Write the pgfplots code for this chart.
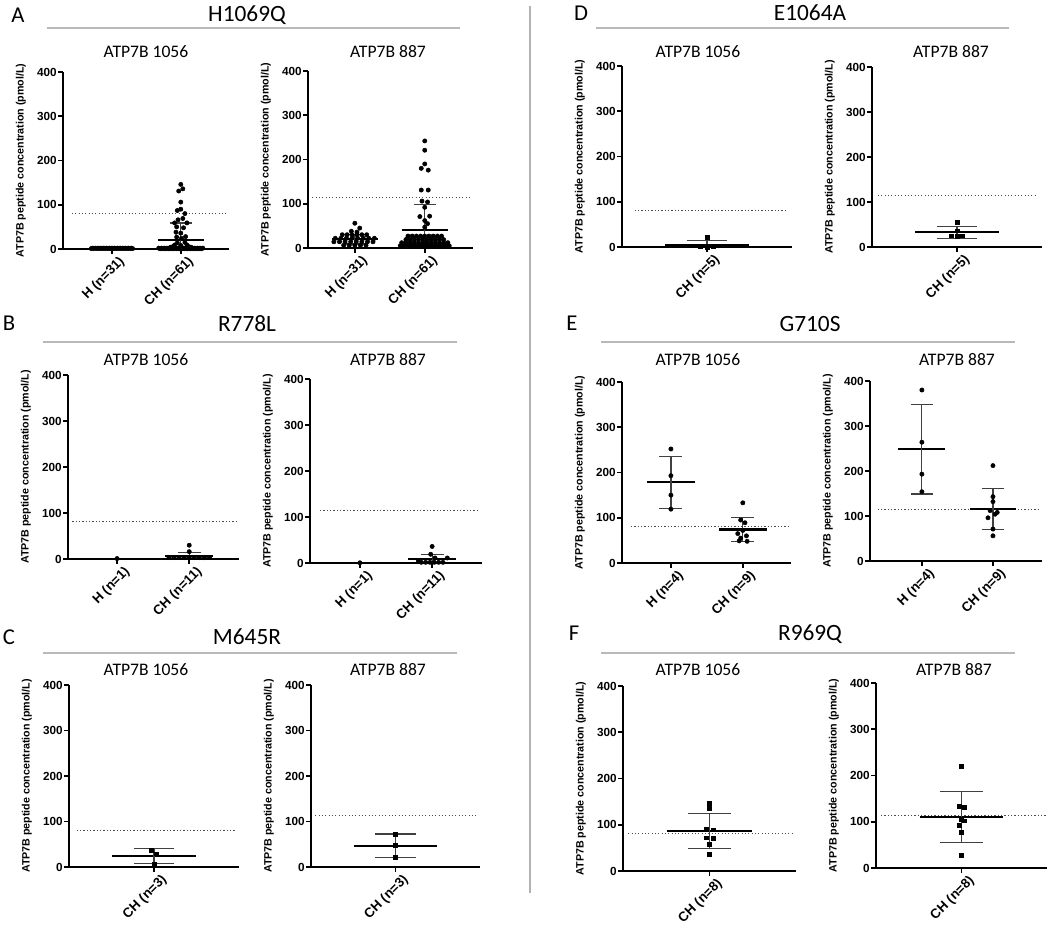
\documentclass[border=0pt]{standalone}
\usepackage{fontspec}
\setmainfont{Liberation Sans}
\newfontfamily\carl{Carlito}
\usepackage{pgfplots}
\pgfplotsset{compat=1.18}
\pgfplotsset{
  gp/.style={
    scale only axis, anchor=south west, clip=false,
    axis lines=left, axis line style={-, line width=1.5pt},
    ymin=0, ymax=400, ytick={0,100,200,300,400},
    tick align=outside, major tick length=3.5pt,
    every tick/.style={black, line width=1.2pt},
    /pgf/number format/assume math mode=true,
    yticklabel style={font=\bfseries\fontsize{8.8}{9}\selectfont, inner sep=1pt},
    xticklabel style={font=\bfseries\fontsize{10}{11}\selectfont, rotate=45, anchor=north east, inner sep=0pt, yshift=-4pt, xshift=2.5pt},
    ylabel={ATP7B peptide concentration (pmol/L)},
    ylabel style={font=\bfseries\fontsize{8}{9}\selectfont, yshift=4pt},
  },
  pts/.style={only marks, mark=*, mark size=1.6pt, black},
  sq/.style={only marks, mark=square*, mark size=1.4pt, black},
  meanl/.style={black, line width=1.6pt, no marks},
  sdl/.style={black!75, line width=0.9pt, no marks},
  thr/.style={black!70, line width=0.9pt, no marks, dash pattern=on 0.9pt off 1.6pt},
}
\begin{document}
\begin{tikzpicture}[x=0.75pt,y=-0.75pt]
\path[use as bounding box, fill=white] (0,0) rectangle (1050,926);
% divider and title rules
\draw[gray!60, line width=1pt] (530,6) -- (530,893);
\draw[gray!55, line width=1.5pt] (47,28) -- (460,28);
\draw[gray!55, line width=1.5pt] (43,342) -- (457,342);
\draw[gray!55, line width=1.5pt] (43,653) -- (457,653);
\draw[gray!55, line width=1.5pt] (596,28) -- (1009,28);
\draw[gray!55, line width=1.5pt] (601,342) -- (1015,342);
\draw[gray!55, line width=1.5pt] (601,653) -- (1015,653);
% panel letters and titles
\tikzset{letter/.style={font=\carl\fontsize{17}{18}\selectfont}, ptitle/.style={font=\carl\fontsize{17.5}{18}\selectfont}, stitle/.style={font=\carl\fontsize{13.2}{14}\selectfont}}
\node[letter] at (18,15) {A};
\node[ptitle] at (247,15) {H1069Q};
\node[letter] at (9,323) {B};
\node[ptitle] at (247,324) {R778L};
\node[letter] at (9,637) {C};
\node[ptitle] at (247,637) {M645R};
\node[letter] at (581,13) {D};
\node[ptitle] at (810,13) {E1064A};
\node[letter] at (572,323) {E};
\node[ptitle] at (810,324) {G710S};
\node[letter] at (574,633) {F};
\node[ptitle] at (810,634) {R969Q};
\node[stitle] at (146,52) {ATP7B 1056};
\node[stitle] at (388,52) {ATP7B 887};
\node[stitle] at (146,360) {ATP7B 1056};
\node[stitle] at (388,360) {ATP7B 887};
\node[stitle] at (146,670) {ATP7B 1056};
\node[stitle] at (388,670) {ATP7B 887};
\node[stitle] at (698,52) {ATP7B 1056};
\node[stitle] at (951,52) {ATP7B 887};
\node[stitle] at (698,360) {ATP7B 1056};
\node[stitle] at (957,360) {ATP7B 887};
\node[stitle] at (698,670) {ATP7B 1056};
\node[stitle] at (954,670) {ATP7B 887};

% ---------------- A1 ----------------
\begin{axis}[gp, at={(47.25pt,-186.75pt)}, width=124.5pt, height=132.75pt,
  xmin=0.29, xmax=2.70, xtick={1,2}, xticklabels={H (n=31), CH (n=61)}]
\addplot[thr] coordinates {(0.42,81) (2.67,81)};
\addplot[pts] coordinates {(0.70,1) (0.72,2) (0.74,1) (0.76,2) (0.78,1) (0.80,2) (0.82,1) (0.84,2) (0.86,1) (0.88,2) (0.90,1) (0.92,2) (0.94,1) (0.96,2) (0.98,1) (1.00,2) (1.02,1) (1.04,2) (1.06,1) (1.08,2) (1.10,1) (1.12,2) (1.14,1) (1.16,2) (1.18,1) (1.20,2) (1.22,1) (1.24,2) (1.26,1) (1.28,2) (1.30,1)};
\addplot[meanl] coordinates {(0.67,1) (1.33,1)};
\addplot[pts] coordinates {(2.00,146) (2.03,136) (1.97,131) (2.00,106) (2.00,90) (1.95,87) (2.06,80) (2.03,69) (1.96,66) (1.91,59) (2.09,59) (1.94,50) (2.04,48) (1.93,38) (2.00,36) (2.07,28) (1.94,27) (2.01,24) (1.95,14) (2.06,15) (1.91,9) (2.00,8) (2.09,9) (1.88,5) (2.12,5)
 (1.68,2) (1.72,2) (1.76,2) (1.80,2) (1.84,2) (1.88,2) (1.92,2) (1.96,2) (2.00,2) (2.04,2) (2.08,2) (2.12,2) (2.16,2) (2.20,2) (2.24,2) (2.28,2) (2.32,2)
 (1.70,0.5) (1.74,0.5) (1.78,0.5) (1.82,0.5) (1.86,0.5) (1.90,0.5) (1.94,0.5) (1.98,0.5) (2.02,0.5) (2.06,0.5) (2.10,0.5) (2.14,0.5) (2.18,0.5) (2.22,0.5) (2.26,0.5) (2.30,0.5)
 (1.85,4) (2.00,4) (2.15,4)};
\addplot[meanl] coordinates {(1.67,21) (2.33,21)};
\addplot[sdl] coordinates {(1.84,59) (2.16,59)};
\addplot[sdl] coordinates {(2,0) (2,59)};
\end{axis}

% ---------------- A2 ----------------
\begin{axis}[gp, at={(231pt,-186pt)}, width=123.75pt, height=132.75pt,
  xmin=0.33, xmax=2.69, xtick={1,2}, xticklabels={H (n=31), CH (n=61)}]
\addplot[thr] coordinates {(0.39,114) (2.64,114)};
\addplot[pts] coordinates {(1.00,56) (1.07,45) (0.95,38) (1.03,36)
 (0.82,30) (0.89,30) (0.96,30) (1.03,30) (1.10,30) (1.17,30)
 (0.72,22) (0.80,22) (0.88,22) (0.96,22) (1.04,22) (1.12,22) (1.20,22) (1.28,22)
 (0.70,14) (0.78,14) (0.86,14) (0.94,14) (1.02,14) (1.10,14) (1.18,14) (1.26,14)
 (0.84,6) (0.92,6) (1.00,6) (1.08,6) (1.16,6)};
\addplot[meanl] coordinates {(0.67,20) (1.33,20)};
\addplot[sdl] coordinates {(0.84,31) (1.16,31)};
\addplot[sdl] coordinates {(0.84,9) (1.16,9)};
\addplot[sdl] coordinates {(1,9) (1,31)};
\addplot[pts] coordinates {(2.00,242) (2.00,221) (2.00,190) (1.95,180) (2.05,176) (1.95,131) (2.05,131) (1.96,106) (2.04,104) (2.00,92) (1.93,71) (2.07,72) (2.00,62) (2.04,55) (2.00,47)
 (1.76,27) (1.82,27) (1.88,27) (1.94,27) (2.00,27) (2.06,27) (2.12,27) (2.18,27) (2.24,27)
 (1.73,19) (1.79,19) (1.85,19) (1.91,19) (1.97,19) (2.03,19) (2.09,19) (2.15,19) (2.21,19) (2.27,19)
 (1.67,12) (1.73,12) (1.79,12) (1.85,12) (1.91,12) (1.97,12) (2.03,12) (2.09,12) (2.15,12) (2.21,12) (2.27,12) (2.33,12)
 (1.65,5) (1.70,5) (1.75,5) (1.80,5) (1.85,5) (1.90,5) (1.95,5) (2.00,5) (2.05,5) (2.10,5) (2.15,5) (2.20,5) (2.25,5) (2.30,5) (2.35,5)};
\addplot[meanl] coordinates {(1.67,41) (2.33,41)};
\addplot[sdl] coordinates {(1.84,99) (2.16,99)};
\addplot[sdl] coordinates {(2,0) (2,99)};
\end{axis}

% ---------------- B1 ----------------
\begin{axis}[gp, at={(51pt,-419.25pt)}, width=128.25pt, height=138pt,
  xmin=0.32, xmax=2.69, xtick={1,2}, xticklabels={H (n=1), CH (n=11)}]
\addplot[thr] coordinates {(0.38,81) (2.65,81)};
\addplot[pts] coordinates {(1.00,1)};
\addplot[pts] coordinates {(2.00,30) (2.00,16) (1.72,3) (1.79,3) (1.86,3) (1.93,3) (2.00,3) (2.07,3) (2.14,3) (2.21,3) (2.28,3)};
\addplot[meanl] coordinates {(1.67,6.5) (2.33,6.5)};
\addplot[sdl] coordinates {(1.84,15) (2.16,15)};
\addplot[sdl] coordinates {(2,0) (2,15)};
\end{axis}

% ---------------- B2 ----------------
\begin{axis}[gp, at={(232.5pt,-422.25pt)}, width=129pt, height=138pt,
  xmin=0.31, xmax=2.69, xtick={1,2}, xticklabels={H (n=1), CH (n=11)}]
\addplot[thr] coordinates {(0.45,114) (2.66,114)};
\addplot[pts] coordinates {(1.00,0.5)};
\addplot[pts] coordinates {(2.00,36) (1.98,19) (2.04,11) (2.21,11) (1.81,5) (1.85,1.5) (1.91,1.5) (1.97,1.5) (2.03,1.5) (2.09,1.5) (2.15,1.5)};
\addplot[meanl] coordinates {(1.67,8) (2.33,8)};
\addplot[sdl] coordinates {(1.84,19) (2.16,19)};
\addplot[sdl] coordinates {(2,0) (2,19)};
\end{axis}

% ---------------- C1 ----------------
\begin{axis}[gp, at={(51.75pt,-650.25pt)}, width=127.5pt, height=136.5pt,
  xmin=0, xmax=2, xtick={1}, xticklabels={CH (n=3)}]
\addplot[thr] coordinates {(0.09,81) (1.95,81)};
\addplot[sq] coordinates {(0.97,37) (1.03,29) (1.00,6)};
\addplot[meanl] coordinates {(0.51,24) (1.49,24)};
\addplot[sdl] coordinates {(0.76,40) (1.24,40)};
\addplot[sdl] coordinates {(0.76,8) (1.24,8)};
\addplot[sdl] coordinates {(1,8) (1,40)};
\end{axis}

% ---------------- C2 ----------------
\begin{axis}[gp, at={(233.25pt,-650.25pt)}, width=126.75pt, height=136.5pt,
  xmin=0, xmax=2, xtick={1}, xticklabels={CH (n=3)}]
\addplot[thr] coordinates {(0.05,114) (1.95,114)};
\addplot[sq] coordinates {(1.00,72) (1.00,47) (1.00,21)};
\addplot[meanl] coordinates {(0.51,47) (1.49,47)};
\addplot[sdl] coordinates {(0.76,72.5) (1.24,72.5)};
\addplot[sdl] coordinates {(0.76,21.5) (1.24,21.5)};
\addplot[sdl] coordinates {(1,21.5) (1,72.5)};
\end{axis}

% ---------------- D1 ----------------
\begin{axis}[gp, at={(466.5pt,-185.25pt)}, width=127.5pt, height=135.75pt,
  xmin=0, xmax=2, xtick={1}, xticklabels={CH (n=5)}]
\addplot[thr] coordinates {(0.15,81) (1.95,81)};
\addplot[sq] coordinates {(1.00,22) (1.00,3) (0.92,1) (1.07,1) (1.00,0)};
\addplot[meanl] coordinates {(0.51,4.5) (1.49,4.5)};
\addplot[sdl] coordinates {(0.76,14) (1.24,14)};
\addplot[sdl] coordinates {(1,0) (1,14)};
\end{axis}

% ---------------- D2 ----------------
\begin{axis}[gp, at={(654pt,-185.25pt)}, width=127.5pt, height=135pt,
  xmin=0, xmax=2, xtick={1}, xticklabels={CH (n=5)}]
\addplot[thr] coordinates {(0.07,114) (1.95,114)};
\addplot[sq] coordinates {(1.00,55) (1.00,36) (0.93,25) (1.00,24) (1.06,25)};
\addplot[meanl] coordinates {(0.51,32.5) (1.49,32.5)};
\addplot[sdl] coordinates {(0.76,46) (1.24,46)};
\addplot[sdl] coordinates {(0.76,19) (1.24,19)};
\addplot[sdl] coordinates {(1,19) (1,46)};
\end{axis}

% ---------------- E1 ----------------
\begin{axis}[gp, at={(466.5pt,-422.25pt)}, width=126.75pt, height=135.75pt,
  xmin=0.32, xmax=2.67, xtick={1,2}, xticklabels={H (n=4), CH (n=9)}]
\addplot[thr] coordinates {(0.445,81) (2.63,81)};
\addplot[pts] coordinates {(1,252) (1,193) (1,150) (1,119)};
\addplot[meanl] coordinates {(0.67,178.5) (1.33,178.5)};
\addplot[sdl] coordinates {(0.84,236) (1.16,236)};
\addplot[sdl] coordinates {(0.84,121) (1.16,121)};
\addplot[sdl] coordinates {(1,121) (1,236)};
\addplot[pts] coordinates {(2.00,133) (1.97,95) (2.03,89) (2.00,72) (1.93,65) (2.05,60) (1.97,55) (1.95,49) (2.06,48)};
\addplot[meanl] coordinates {(1.67,74) (2.33,74)};
\addplot[sdl] coordinates {(1.84,101) (2.16,101)};
\addplot[sdl] coordinates {(1.84,47) (2.16,47)};
\addplot[sdl] coordinates {(2,47) (2,101)};
\end{axis}

% ---------------- E2 ----------------
\begin{axis}[gp, at={(652.5pt,-420.75pt)}, width=129pt, height=135pt,
  xmin=0.27, xmax=2.69, xtick={1,2}, xticklabels={H (n=4), CH (n=9)}]
\addplot[thr] coordinates {(0.38,114) (2.64,114)};
\addplot[pts] coordinates {(1,380) (1,264) (1,193) (1,154)};
\addplot[meanl] coordinates {(0.67,248) (1.33,248)};
\addplot[sdl] coordinates {(0.84,347) (1.16,347)};
\addplot[sdl] coordinates {(0.84,149) (1.16,149)};
\addplot[sdl] coordinates {(1,149) (1,347)};
\addplot[pts] coordinates {(2.00,212) (2.00,143) (2.00,132) (1.96,112) (2.06,108) (2.03,104) (1.93,96) (2.00,71) (2.00,56)};
\addplot[meanl] coordinates {(1.67,115) (2.33,115)};
\addplot[sdl] coordinates {(1.84,161) (2.16,161)};
\addplot[sdl] coordinates {(1.84,70) (2.16,70)};
\addplot[sdl] coordinates {(2,70) (2,161)};
\end{axis}

% ---------------- F1 ----------------
\begin{axis}[gp, at={(467.25pt,-653.25pt)}, width=129.75pt, height=138.75pt,
  xmin=0, xmax=2, xtick={1}, xticklabels={CH (n=8)}]
\addplot[thr] coordinates {(0.06,81) (1.98,81)};
\addplot[sq] coordinates {(1.00,146) (1.00,135) (0.96,91) (1.04,89) (0.96,72) (1.04,71) (1.00,58) (1.00,36)};
\addplot[meanl] coordinates {(0.51,87) (1.49,87)};
\addplot[sdl] coordinates {(0.75,124.5) (1.25,124.5)};
\addplot[sdl] coordinates {(0.75,49.5) (1.25,49.5)};
\addplot[sdl] coordinates {(1,49.5) (1,124.5)};
\end{axis}

% ---------------- F2 ----------------
\begin{axis}[gp, at={(657pt,-651pt)}, width=128.25pt, height=138.75pt,
  xmin=0, xmax=2, xtick={1}, xticklabels={CH (n=8)}]
\addplot[thr] coordinates {(0.06,114) (2.00,114)};
\addplot[sq] coordinates {(1.00,220) (0.97,133) (1.03,131) (1.00,105) (1.03,102) (0.97,93) (1.00,77) (1.00,28)};
\addplot[meanl] coordinates {(0.51,111) (1.49,111)};
\addplot[sdl] coordinates {(0.75,166) (1.25,166)};
\addplot[sdl] coordinates {(0.75,56) (1.25,56)};
\addplot[sdl] coordinates {(1,56) (1,166)};
\end{axis}
\end{tikzpicture}
\end{document}
